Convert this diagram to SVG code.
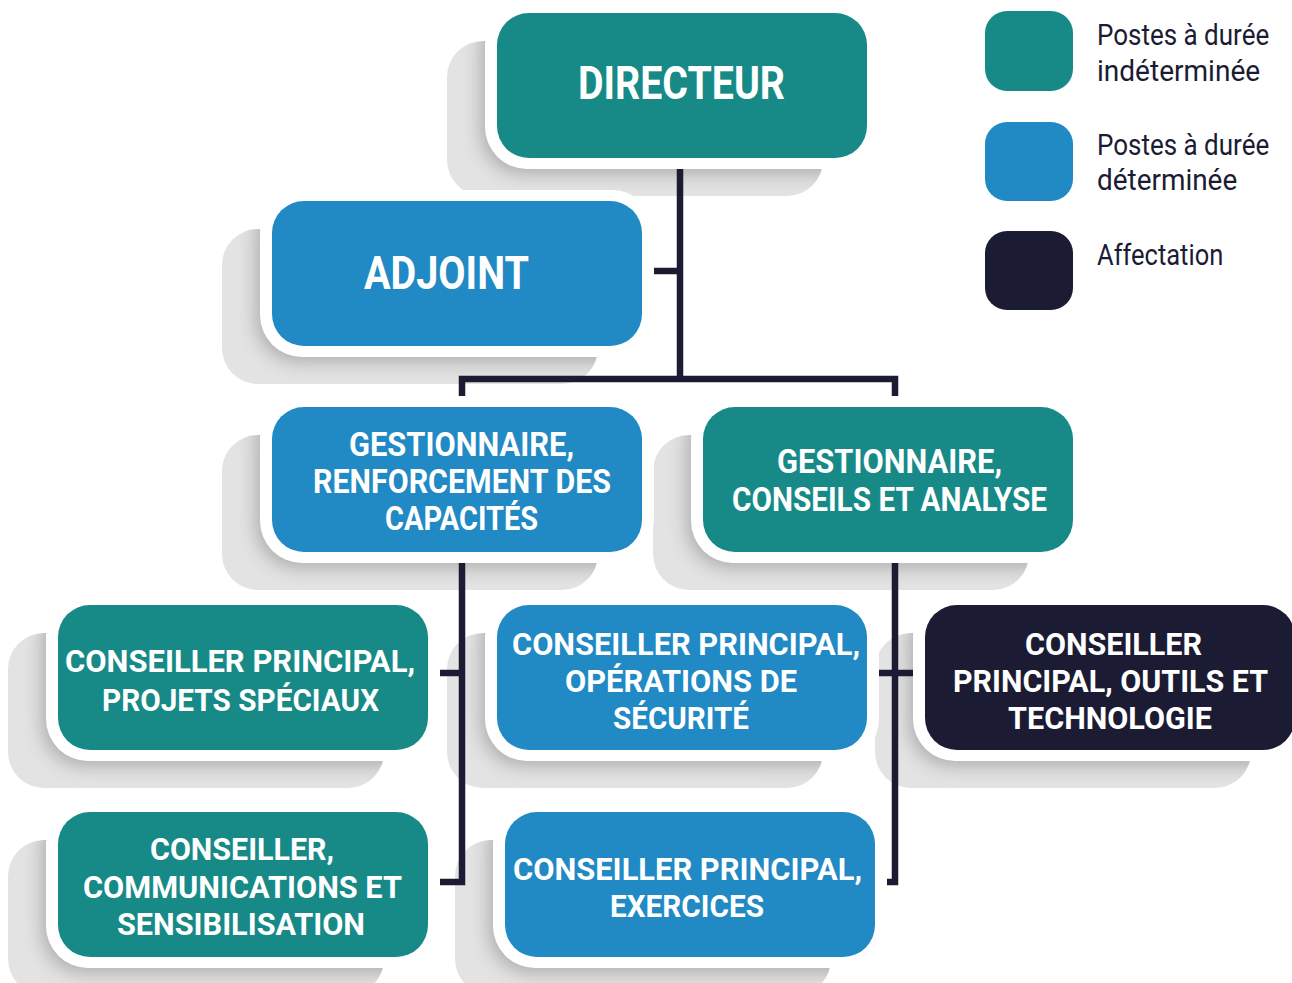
<svg xmlns="http://www.w3.org/2000/svg" xmlns:xlink="http://www.w3.org/1999/xlink" width="1292" height="983" viewBox="0 0 1292 983">
<style>
.t{font-family:Roboto,"Liberation Sans",Arial,sans-serif;font-weight:700;fill:#ffffff}
.lg{font-family:Roboto,"Liberation Sans",Arial,sans-serif;font-weight:400;fill:#1b1c33;font-size:30px}
.teal{fill:#178a87}.blue{fill:#2189c4}.navy{fill:#1b1c33}
.rim{fill:#ffffff}
.con{fill:none;stroke:#1b1c33;stroke-width:6.5;stroke-linecap:butt;stroke-linejoin:miter}
</style>
<defs>
<clipPath id="sc"><rect x="-50" y="28" width="376" height="155" rx="36"/></clipPath>
<filter id="bl" x="-20%" y="-30%" width="140%" height="160%"><feGaussianBlur stdDeviation="9"/></filter>
<g id="shd">
<rect x="-50" y="28" width="376" height="155" rx="36" fill="#e3e3e3"/>
<g clip-path="url(#sc)"><rect x="-16" y="-6" width="392" height="167" rx="42" fill="#8a8a8a" opacity="0.6" filter="url(#bl)"/></g>
</g>
</defs>
<rect width="1292" height="983" fill="#ffffff"/>
<g id="shadows">
<use xlink:href="#shd" x="497" y="13"/>
<use xlink:href="#shd" x="272" y="201"/>
<use xlink:href="#shd" x="272" y="407"/>
<use xlink:href="#shd" x="703" y="407"/>
<use xlink:href="#shd" x="58" y="605"/>
<use xlink:href="#shd" x="58" y="812"/>
<use xlink:href="#shd" x="497" y="605"/>
<use xlink:href="#shd" x="505" y="812"/>
<use xlink:href="#shd" x="925" y="605"/>
</g>
<g id="connectors">
<path class="con" d="M680,168 V379"/>
<path class="con" d="M462,397 V379 H895 V397"/>
<path class="con" d="M653,271 H680"/>
<path class="con" d="M462,563 V882 H439"/>
<path class="con" d="M439,673 H462"/>
<path class="con" d="M895,563 V882 H886"/>
<path class="con" d="M878,673 H913"/>
</g>
<g id="directeur">
<rect class="rim" x="485" y="2" width="394" height="167" rx="42"/>
<rect class="teal" x="497" y="13" width="370" height="145" rx="32"/>
<text class="t" font-size="47" x="578" y="99" textLength="207" lengthAdjust="spacingAndGlyphs">DIRECTEUR</text>
</g>
<g id="adjoint">
<rect class="rim" x="260" y="190" width="394" height="167" rx="42"/>
<rect class="blue" x="272" y="201" width="370" height="145" rx="32"/>
<text class="t" font-size="47" x="364" y="289" textLength="165" lengthAdjust="spacingAndGlyphs">ADJOINT</text>
</g>
<g id="gestionnaire-renforcement">
<rect class="rim" x="260" y="396" width="394" height="167" rx="42"/>
<rect class="blue" x="272" y="407" width="370" height="145" rx="32"/>
<text class="t" font-size="34" x="349" y="456" textLength="225" lengthAdjust="spacingAndGlyphs">GESTIONNAIRE,</text>
<text class="t" font-size="34" x="313" y="493" textLength="298" lengthAdjust="spacingAndGlyphs">RENFORCEMENT DES</text>
<text class="t" font-size="34" x="385" y="530" textLength="153" lengthAdjust="spacingAndGlyphs">CAPACITÉS</text>
</g>
<g id="gestionnaire-conseils">
<rect class="rim" x="691" y="396" width="394" height="167" rx="42"/>
<rect class="teal" x="703" y="407" width="370" height="145" rx="32"/>
<text class="t" font-size="34" x="777" y="473" textLength="225" lengthAdjust="spacingAndGlyphs">GESTIONNAIRE,</text>
<text class="t" font-size="34" x="732" y="511" textLength="315" lengthAdjust="spacingAndGlyphs">CONSEILS ET ANALYSE</text>
</g>
<g id="projets-speciaux">
<rect class="rim" x="46" y="594" width="394" height="167" rx="42"/>
<rect class="teal" x="58" y="605" width="370" height="145" rx="32"/>
<text class="t" font-size="32" x="65" y="672" textLength="350" lengthAdjust="spacingAndGlyphs">CONSEILLER PRINCIPAL,</text>
<text class="t" font-size="32" x="102" y="711" textLength="277" lengthAdjust="spacingAndGlyphs">PROJETS SPÉCIAUX</text>
</g>
<g id="communications">
<rect class="rim" x="46" y="801" width="394" height="167" rx="42"/>
<rect class="teal" x="58" y="812" width="370" height="145" rx="32"/>
<text class="t" font-size="32" x="150" y="860" textLength="184" lengthAdjust="spacingAndGlyphs">CONSEILLER,</text>
<text class="t" font-size="32" x="83" y="898" textLength="319" lengthAdjust="spacingAndGlyphs">COMMUNICATIONS ET</text>
<text class="t" font-size="32" x="117" y="935" textLength="248" lengthAdjust="spacingAndGlyphs">SENSIBILISATION</text>
</g>
<g id="operations-securite">
<rect class="rim" x="485" y="594" width="394" height="167" rx="42"/>
<rect class="blue" x="497" y="605" width="370" height="145" rx="32"/>
<text class="t" font-size="32" x="512" y="655" textLength="348" lengthAdjust="spacingAndGlyphs">CONSEILLER PRINCIPAL,</text>
<text class="t" font-size="32" x="565" y="692" textLength="232" lengthAdjust="spacingAndGlyphs">OPÉRATIONS DE</text>
<text class="t" font-size="32" x="613" y="729" textLength="136" lengthAdjust="spacingAndGlyphs">SÉCURITÉ</text>
</g>
<g id="exercices">
<rect class="rim" x="493" y="801" width="394" height="167" rx="42"/>
<rect class="blue" x="505" y="812" width="370" height="145" rx="32"/>
<text class="t" font-size="32" x="513" y="880" textLength="349" lengthAdjust="spacingAndGlyphs">CONSEILLER PRINCIPAL,</text>
<text class="t" font-size="32" x="610" y="917" textLength="154" lengthAdjust="spacingAndGlyphs">EXERCICES</text>
</g>
<g id="outils-technologie">
<rect class="rim" x="913" y="594" width="394" height="167" rx="42"/>
<rect class="navy" x="925" y="605" width="370" height="145" rx="32"/>
<text class="t" font-size="32" x="1025" y="655" textLength="177" lengthAdjust="spacingAndGlyphs">CONSEILLER</text>
<text class="t" font-size="32" x="953" y="692" textLength="315" lengthAdjust="spacingAndGlyphs">PRINCIPAL, OUTILS ET</text>
<text class="t" font-size="32" x="1008" y="729" textLength="204" lengthAdjust="spacingAndGlyphs">TECHNOLOGIE</text>
</g>
<g id="legend">
<rect class="teal" x="985" y="11" width="88" height="80" rx="22"/>
<rect class="blue" x="985" y="122" width="88" height="79" rx="22"/>
<rect class="navy" x="985" y="231" width="88" height="79" rx="22"/>
<text class="lg" transform="translate(1097,45) scale(0.82,1)" x="0" y="0" textLength="210" lengthAdjust="spacingAndGlyphs">Postes à durée</text>
<text class="lg" transform="translate(1097,81) scale(0.82,1)" x="0" y="0" textLength="199" lengthAdjust="spacingAndGlyphs">indéterminée</text>
<text class="lg" transform="translate(1097,155) scale(0.82,1)" x="0" y="0" textLength="210" lengthAdjust="spacingAndGlyphs">Postes à durée</text>
<text class="lg" transform="translate(1097,190) scale(0.82,1)" x="0" y="0" textLength="171" lengthAdjust="spacingAndGlyphs">déterminée</text>
<text class="lg" transform="translate(1097,265) scale(0.82,1)" x="0" y="0" textLength="154" lengthAdjust="spacingAndGlyphs">Affectation</text>
</g>
</svg>
